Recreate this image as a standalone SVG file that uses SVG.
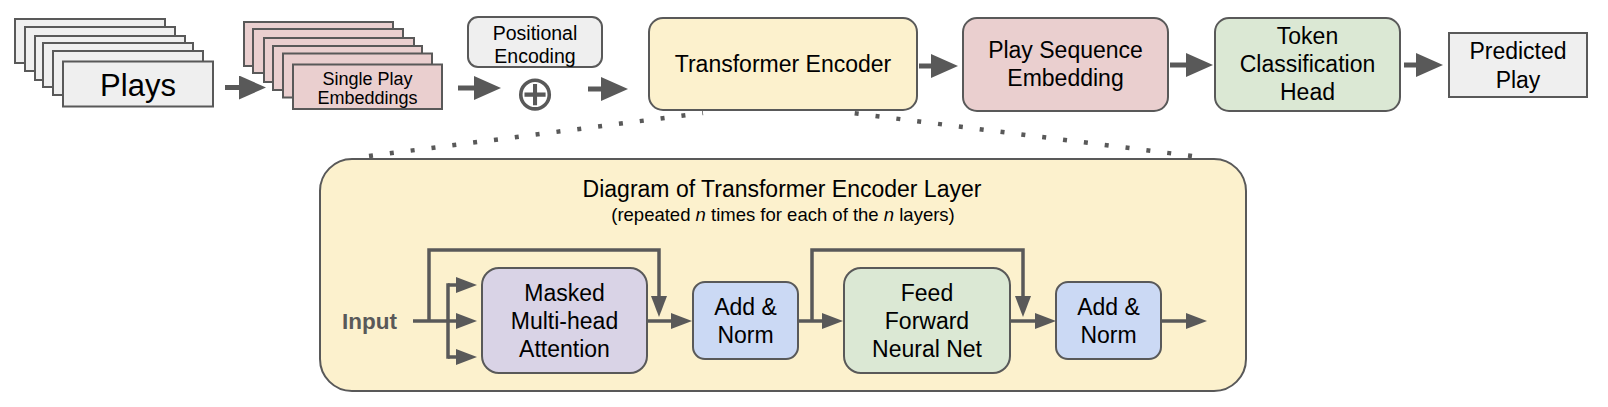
<svg xmlns="http://www.w3.org/2000/svg" width="1608" height="407" viewBox="0 0 1608 407">
<defs>
<style>
text{font-family:"Liberation Sans",Arial,Helvetica,sans-serif;fill:#000;text-anchor:middle}
.lbl{font-size:23px}
.box{stroke:#595959;stroke-width:2}
.gray{fill:#efefef}
.pink{fill:#eacfcf}
.yel{fill:#fcf1cd}
.grn{fill:#dbe8d4}
.pur{fill:#d9d3e6}
.blu{fill:#cbd9f4}
.arr{fill:none;stroke:#595959;stroke-width:5}
.arr2{fill:none;stroke:#595959;stroke-width:3.5}
.dot{fill:none;stroke:#595959;stroke-width:4.5;stroke-dasharray:4 17}
</style>
<marker id="ah" markerUnits="userSpaceOnUse" markerWidth="27" markerHeight="24" refX="0" refY="12" orient="auto"><path d="M0,0 L27,12 L0,24 z" fill="#595959"/></marker>
<marker id="as" markerUnits="userSpaceOnUse" markerWidth="21" markerHeight="16" refX="0" refY="8" orient="auto"><path d="M0,0 L21,8 L0,16 z" fill="#595959"/></marker>
</defs>
<rect width="1608" height="407" fill="#fff"/>

<g id="plays">
<rect class="box gray" x="15" y="19" width="150" height="44"/>
<rect class="box gray" x="25" y="27" width="150" height="44"/>
<rect class="box gray" x="35" y="36" width="150" height="44"/>
<rect class="box gray" x="43" y="43" width="150" height="44"/>
<rect class="box gray" x="53" y="51" width="150" height="44"/>
<rect class="box gray" x="63" y="61.5" width="150" height="45"/>
<text x="138" y="96" style="font-size:31px">Plays</text>
</g>

<g id="single-play-embeddings">
<rect class="box pink" x="244" y="22" width="149" height="44"/>
<rect class="box pink" x="253" y="29" width="150" height="44"/>
<rect class="box pink" x="264" y="38" width="150" height="44"/>
<rect class="box pink" x="273" y="46" width="149" height="44"/>
<rect class="box pink" x="283" y="53.5" width="149" height="44"/>
<rect class="box pink" x="293" y="64.5" width="149" height="44.5"/>
<text x="367.5" y="85" style="font-size:18px">Single Play</text>
<text x="367.5" y="104" style="font-size:18px">Embeddings</text>
</g>

<g id="positional-encoding">
<rect class="box gray" x="468" y="17" width="134" height="50" rx="10"/>
<text x="535" y="39.5" style="font-size:19.5px">Positional</text>
<text x="535" y="62.5" style="font-size:19.5px">Encoding</text>
</g>

<g id="plus">
<text x="535" y="110" style="font-family:'DejaVu Sans',sans-serif;font-size:49px;fill:#595959">⊕</text>
</g>

<g id="transformer-encoder">
<rect class="box yel" x="649" y="18" width="268" height="92" rx="14"/>
<text class="lbl" x="783" y="72">Transformer Encoder</text>
</g>

<g id="play-sequence-embedding">
<rect class="box pink" x="963" y="18" width="205" height="93" rx="14"/>
<text class="lbl" x="1065.5" y="58">Play Sequence</text>
<text class="lbl" x="1065.5" y="86">Embedding</text>
</g>

<g id="token-classification-head">
<rect class="box grn" x="1215" y="18" width="185" height="93" rx="14"/>
<text class="lbl" x="1307.5" y="44">Token</text>
<text class="lbl" x="1307.5" y="72">Classification</text>
<text class="lbl" x="1307.5" y="100">Head</text>
</g>

<g id="predicted-play">
<rect class="box gray" x="1449" y="33" width="138" height="64"/>
<text class="lbl" x="1518" y="59">Predicted</text>
<text class="lbl" x="1518" y="88">Play</text>
</g>

<g id="connectors">
<path class="arr" d="M225,87.5 H239" marker-end="url(#ah)"/>
<path class="arr" d="M458,88 H474" marker-end="url(#ah)"/>
<path class="arr" d="M588,89 H601" marker-end="url(#ah)"/>
<path class="arr" d="M919,66 H931" marker-end="url(#ah)"/>
<path class="arr" d="M1170,65 H1186" marker-end="url(#ah)"/>
<path class="arr" d="M1404,65 H1416" marker-end="url(#ah)"/>
<path class="dot" d="M369,156 L703,113"/>
<path class="dot" d="M1192,156 L852,113"/>
</g>

<g id="encoder-layer">
<rect class="box yel" x="320" y="159" width="926" height="232" rx="32"/>
<text class="lbl" x="782" y="197">Diagram of Transformer Encoder Layer</text>
<text x="783" y="221" style="font-size:18.5px">(repeated <tspan font-style="italic">n</tspan> times for each of the <tspan font-style="italic">n</tspan> layers)</text>
</g>

<g id="layer-connectors">
<path class="arr2" d="M413,321 H456" marker-end="url(#as)"/>
<path class="arr2" d="M448,285 V357" stroke-linecap="square"/>
<path class="arr2" d="M448,285 H456" marker-end="url(#as)"/>
<path class="arr2" d="M448,357 H456" marker-end="url(#as)"/>
<path class="arr2" d="M429,321 V250 H659 V296" marker-end="url(#as)"/>
<path class="arr2" d="M647,321 H671" marker-end="url(#as)"/>
<path class="arr2" d="M798,321 H822" marker-end="url(#as)"/>
<path class="arr2" d="M812,321 V250 H1023 V296" marker-end="url(#as)"/>
<path class="arr2" d="M1010,321 H1035" marker-end="url(#as)"/>
<path class="arr2" d="M1161,321 H1186" marker-end="url(#as)"/>
</g>

<g id="input">
<text x="342" y="329" style="font-size:22.5px;font-weight:bold;fill:#595959;text-anchor:start">Input</text>
</g>

<g id="masked-attention">
<rect class="box pur" x="482" y="268" width="165" height="105" rx="17"/>
<text class="lbl" x="564.5" y="300.5">Masked</text>
<text class="lbl" x="564.5" y="329">Multi-head</text>
<text class="lbl" x="564.5" y="357">Attention</text>
</g>

<g id="add-norm-1">
<rect class="box blu" x="693" y="282" width="105" height="77" rx="12"/>
<text class="lbl" x="745.5" y="315">Add &amp;</text>
<text class="lbl" x="745.5" y="343">Norm</text>
</g>

<g id="feed-forward">
<rect class="box grn" x="844" y="268" width="166" height="105" rx="17"/>
<text class="lbl" x="927" y="300.5">Feed</text>
<text class="lbl" x="927" y="328.5">Forward</text>
<text class="lbl" x="927" y="356.5">Neural Net</text>
</g>

<g id="add-norm-2">
<rect class="box blu" x="1056" y="282" width="105" height="77" rx="12"/>
<text class="lbl" x="1108.5" y="315">Add &amp;</text>
<text class="lbl" x="1108.5" y="343">Norm</text>
</g>
</svg>
